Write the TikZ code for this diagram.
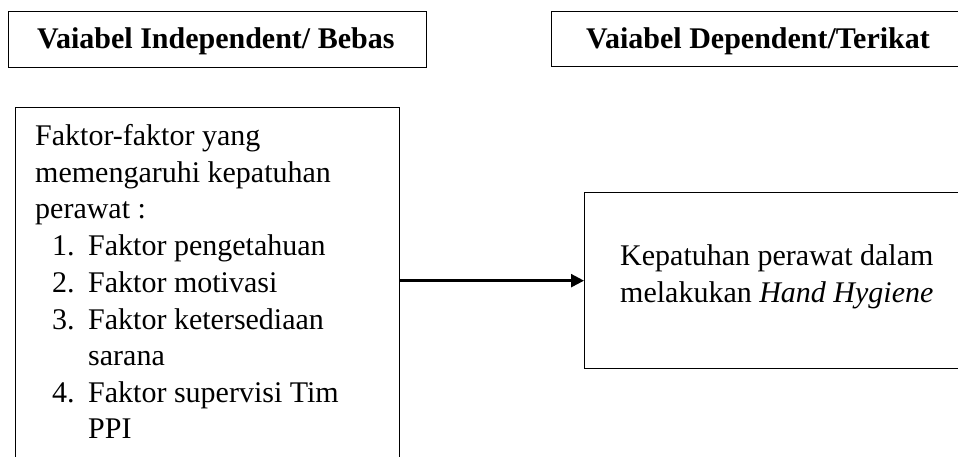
\documentclass[tikz,border=0pt]{standalone}
\usepackage{fontspec}
\setmainfont{Liberation Serif}
\usetikzlibrary{arrows.meta}
\begin{document}
\begin{tikzpicture}[x=1pt,y=-1pt,
  boxframe/.style={draw=black,line width=1.3pt,inner sep=0pt,anchor=north west},
  txt/.style={inner sep=0pt,anchor=base west,font=\fontsize{30}{36.6}\selectfont},
  bold/.style={txt,font=\fontsize{30}{36.6}\selectfont\bfseries},
  link/.style={line width=2.4pt,-{Triangle[length=13pt,width=13pt]}}]
\useasboundingbox (0,0) rectangle (958,456);
\fill[white] (0,0) rectangle (958,456);
% boxes
\node[boxframe,minimum width=418pt,minimum height=56pt] (hl) at (8,11) {};
\node[boxframe,minimum width=415pt,minimum height=55pt] (hr) at (551,11) {};
\node[boxframe,minimum width=384pt,minimum height=380pt] (lb) at (15,107) {};
\node[boxframe,minimum width=384pt,minimum height=176pt] (rb) at (584,192) {};
% header texts
\node[bold] (hlt) at (37,48) {Vaiabel Independent/ Bebas};
\node[bold] (hrt) at (586,48) {Vaiabel Dependent/Terikat};
% left box text
\node[txt] (l1) at (35,145) {Faktor-faktor yang};
\node[txt] (l2) at (35,182) {memengaruhi kepatuhan};
\node[txt] (l3) at (35,218) {perawat :};
\node[txt] (n1) at (52,255) {1.};
\node[txt] (i1) at (88,255) {Faktor pengetahuan};
\node[txt] (n2) at (52,292) {2.};
\node[txt] (i2) at (88,292) {Faktor motivasi};
\node[txt] (n3) at (52,329) {3.};
\node[txt] (i3) at (88,329) {Faktor ketersediaan};
\node[txt] (i3b) at (88,365) {sarana};
\node[txt] (n4) at (52,402) {4.};
\node[txt] (i4) at (88,402) {Faktor supervisi Tim};
\node[txt] (i4b) at (88,438) {PPI};
% right box text
\node[txt] (r1) at (620,265) {Kepatuhan perawat dalam};
\node[txt] (r2) at (620,302) {melakukan \textit{Hand Hygiene}};
% connector
\draw[link] (lb.east |- rb.west) -- (rb.west);
\end{tikzpicture}
\end{document}
